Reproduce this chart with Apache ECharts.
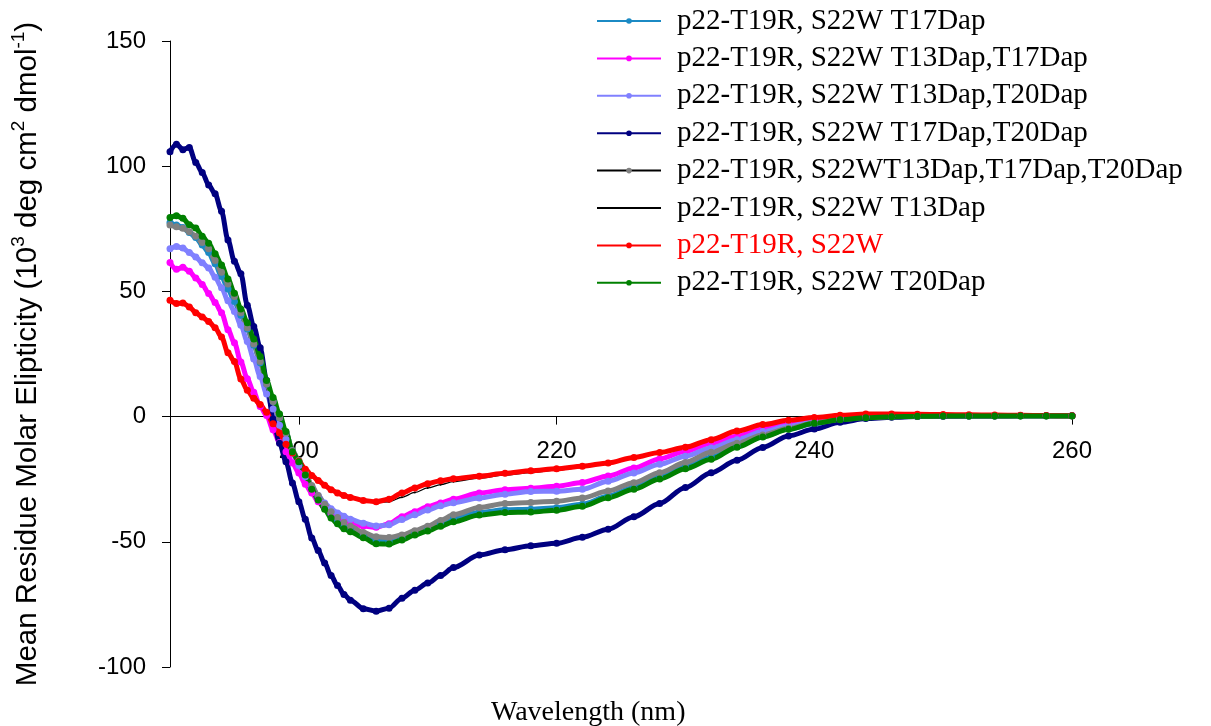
<!DOCTYPE html>
<html><head><meta charset="utf-8">
<script src="https://cdn.jsdelivr.net/npm/echarts@6/dist/echarts.min.js"></script>
<style>html,body{margin:0;padding:0;background:#fff}#chart{width:1211px;height:726px}</style>
</head><body><div id="chart"></div>
<script>
// wavelength (nm)
const wavelength = [190,190.5,191,191.5,192,192.5,193,193.5,194,194.5,195,195.5,196,196.5,197,197.5,198,198.5,199,199.5,200,200.5,201,201.5,202,202.5,203,203.5,204,
  205,206,207,208,209,210,211,212,
  214,216,218,220,222,224,226,228,230,232,234,236,238,240,242,244,246,
  248,250,252,254,256,258,260];

const t17 = [77.5,76.5,75.5,73.5,71.5,68.5,65.5,61,56,51,46,40.5,35,28.5,21.5,13,6,-0.5,-6.5,-13.5,-18,-23,-28,-32.3,-36,-39,-41.5,-43.5,-45,
  -47.6,-49.6,-50,-48.5,-46.5,-44.8,-42.8,-40.6,
  -38.3,-37.2,-37,-36.4,-35,-31.8,-28.3,-24.2,-20,-16.2,-11.9,-7.9,-5,-2.8,-1.3,-0.5,-0.1,
  0.1,0.2,0.2,0.3,0.3,0.3,0.3];
const t13t17 = [61.5,58.8,59.6,58,55.4,52.8,49.2,45.6,41.5,34.7,29.5,21.8,15.1,9.7,4,0.4,-5.3,-10.3,-14,-18.5,-22.5,-27,-30.5,-34,-36.5,-38.5,-40,-41.5,-42.5,
  -43.7,-44.2,-42.8,-40,-38,-36,-34.5,-33,
  -30.5,-29.2,-28.6,-27.8,-26.3,-23.7,-20.5,-16.9,-13.8,-10.6,-7.8,-5,-3,-1.5,-0.6,0,0.2,
  0.3,0.4,0.4,0.4,0.4,0.4,0.4];
const t13t20 = [67,67.9,67.3,65.5,63.7,61.4,59.3,55.7,51.5,46.3,42,36.5,30,23,16,9,3,-3.5,-9,-14.5,-19.5,-24,-28,-31.5,-34.5,-36.8,-38.5,-39.8,-41,
  -42.6,-43.7,-43.2,-41.1,-39.2,-37.3,-35.6,-34.4,
  -32.5,-31,-29.9,-29.8,-29,-25.8,-22.5,-19,-15.8,-12.5,-9.2,-6,-3.8,-2.2,-1,-0.3,0,
  0.2,0.3,0.3,0.3,0.3,0.3,0.3];
const t17t20 = [105.8,108.8,106.6,107.5,101.5,97.5,92.5,89,82,70.5,62,57,44.5,36,27.5,14.4,-1,-10.6,-18,-26.5,-34,-41,-48.5,-53.5,-58.5,-63.5,-67.5,-71,-73.3,
  -76.7,-77.7,-76.5,-72.5,-69.3,-66.5,-63.5,-60.3,
  -55.3,-53.2,-51.6,-50.6,-48.2,-45,-40,-34.7,-28.3,-22.4,-17.4,-12.3,-7.7,-5,-2.3,-0.8,-0.3,
  0,0.1,0.2,0.2,0.3,0.3,0.3];
const t13t17t20 = [76.5,75.8,75.2,73.8,72,69.5,67,62.3,57.6,53,48,41.5,35.5,29,22,13,6,-0.5,-6.5,-13.5,-17.5,-22.5,-27.5,-31.5,-35,-38,-40.3,-42.3,-43.8,
  -46.3,-48,-48.3,-47.3,-45.6,-43.8,-41.5,-39.2,
  -36.3,-34.7,-34.3,-33.8,-32.5,-29.7,-26.4,-22.4,-18.3,-14.2,-10.6,-7.3,-4.7,-2.6,-1.2,-0.4,-0.1,
  0.1,0.2,0.2,0.2,0.3,0.3,0.3];
const t13 = [46.5,45.2,45.4,43.8,41.5,39.8,38,35.5,31.8,25.5,22,15,10.5,7.3,4.8,1.7,-2.9,-6.5,-11,-14.5,-17.8,-21,-23.5,-25.5,-27.4,-29.2,-30.5,-31.5,-32.3,
  -33.5,-34.2,-34,-32.2,-30.3,-28.5,-27.2,-26,
  -24.6,-23.4,-22.4,-21.4,-20.3,-18.7,-16.3,-14.3,-12.2,-9.2,-5.8,-3.2,-1.5,-0.4,0.5,1,1,
  0.9,0.8,0.7,0.6,0.5,0.4,0.3];
const s22w = [46.5,45.2,45.4,43.8,41.5,39.8,38,35.5,31.8,25.5,22,15,10.5,7.3,4.8,1.7,-2.9,-6.5,-11,-14.5,-17.8,-21,-23.5,-25.5,-27.4,-29.2,-30.5,-31.5,-32.3,
  -33.5,-34,-33,-30.5,-28.5,-26.8,-25.6,-24.8,
  -23.8,-22.6,-21.6,-20.8,-19.8,-18.5,-16.3,-14.3,-12.2,-9.2,-5.8,-3.2,-1.5,-0.4,0.5,1,1,
  0.9,0.8,0.7,0.6,0.5,0.4,0.3];
const t20 = [79.5,80.2,79.2,76.6,75.3,72,69.2,65,60.5,55,49.3,43,37.5,31,24,14.4,7.6,1,-6,-14,-18,-23.3,-29,-33.3,-37,-40.5,-42.8,-44.8,-46,
  -48.4,-50.8,-50.9,-49.3,-47.3,-45.7,-43.8,-42,
  -39.3,-38.3,-38.1,-37.4,-35.8,-32.4,-29,-24.9,-20.8,-17,-12.2,-8.1,-5.1,-2.7,-1.3,-0.5,-0.1,
  0.1,0.2,0.2,0.2,0.2,0.2,0.2];

const seriesNames = [
  'p22-T19R, S22W T17Dap',
  'p22-T19R, S22W T13Dap,T17Dap',
  'p22-T19R, S22W T13Dap,T20Dap',
  'p22-T19R, S22W T17Dap,T20Dap',
  'p22-T19R, S22WT13Dap,T17Dap,T20Dap',
  'p22-T19R, S22W T13Dap',
  'p22-T19R, S22W',
  'p22-T19R, S22W T20Dap'
];
const seriesValues = [t17, t13t17, t13t20, t17t20, t13t17t20, t13, s22w, t20];
const plotColors   = ['#1b8ac4', '#ff00ff', '#8080ff', '#000080', '#808080', '#000000', '#ff0000', '#008000'];
const legendLine   = ['#1b8ac4', '#ff00ff', '#8080ff', '#000080', '#000000', '#000000', '#ff0000', '#008000'];
const legendDot    = ['#1b8ac4', '#ff00ff', '#8080ff', '#000080', '#808080', '#000000', '#ff0000', '#008000'];
const legendText   = ['#000', '#000', '#000', '#000', '#000', '#000', '#ff0000', '#000'];
const xTickValues = [200, 220, 240, 260];

const series = seriesNames.map((name, k) => {
  const thin = k === 5;
  return {
    name, type: 'line',
    data: wavelength.map((x, i) => [x, seriesValues[k][i]]),
    smooth: 0.3, smoothMonotone: 'x',
    symbol: 'circle', symbolSize: thin ? 2 : 7, showSymbol: true,
    lineStyle: {color: plotColors[k], width: thin ? 1.3 : 5},
    itemStyle: {color: plotColors[k]},
    emphasis: {disabled: true}
  };
});

const chart = echarts.init(document.getElementById('chart'));
chart.setOption({
  animation: false,
  backgroundColor: '#ffffff',
  title: {
    text: 'Wavelength (nm)', left: 491, top: 699, padding: 0,
    textStyle: {fontFamily: 'Liberation Serif', fontSize: 28, fontWeight: 'normal', color: '#000'}
  },
  legend: {
    orient: 'vertical', left: 596, top: 6, padding: 0,
    itemWidth: 64, itemHeight: 7, itemGap: 7.4,
    textStyle: {fontFamily: 'Liberation Serif', fontSize: 29, color: '#000', lineHeight: 30, padding: [0, 0, 0, 11]},
    data: seriesNames.map((name, k) => ({
      name,
      lineStyle: {color: legendLine[k], width: 2},
      itemStyle: {color: legendDot[k], opacity: k === 5 ? 0 : 1},
      textStyle: {color: legendText[k]}
    }))
  },
  grid: {left: 170, right: 139, top: 41, bottom: 59, containLabel: false, outerBoundsMode: 'none'},
  xAxis: {
    type: 'value', min: 190, max: 260, position: 'bottom', offset: -250.4,
    axisLine: {onZero: false, lineStyle: {color: '#000', width: 1}},
    axisTick: {show: true, inside: false, length: 8, customValues: xTickValues, lineStyle: {color: '#000', width: 1}},
    axisLabel: {customValues: xTickValues, margin: 23, color: '#000', fontFamily: 'Liberation Sans', fontSize: 24},
    splitLine: {show: false}
  },
  yAxis: {
    type: 'value', min: -100, max: 150, interval: 50,
    name: '{a|Mean Residue Molar Elipticity (10}{s|3}{a| deg cm}{s|2}{a| dmol}{s|-1}{a|)}',
    nameLocation: 'middle', nameRotate: 90, nameGap: 127,
    nameTextStyle: {
      color: '#000', fontFamily: 'Liberation Sans', fontSize: 29.5,
      rich: {
        a: {fontFamily: 'Liberation Sans', fontSize: 29.5, color: '#000', lineHeight: 34, verticalAlign: 'bottom'},
        s: {fontFamily: 'Liberation Sans', fontSize: 19, color: '#000', lineHeight: 34, verticalAlign: 'top'}
      }
    },
    axisLine: {show: true, onZero: false, lineStyle: {color: '#000', width: 1}},
    axisTick: {show: true, inside: false, length: 8, lineStyle: {color: '#000', width: 1}},
    axisLabel: {margin: 24, color: '#000', fontFamily: 'Liberation Sans', fontSize: 24},
    splitLine: {show: false}
  },
  series
});
</script></body></html>
